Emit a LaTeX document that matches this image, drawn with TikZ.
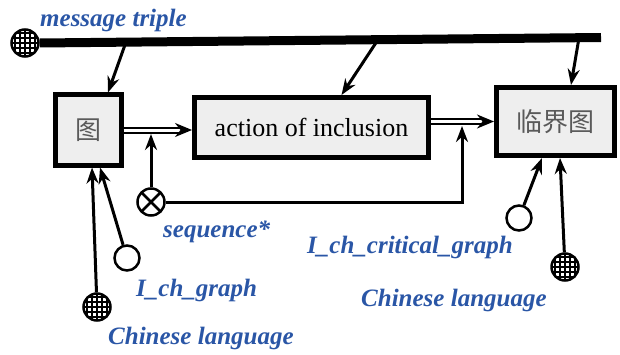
\documentclass[tikz,border=0pt]{standalone}
\usepackage{fontspec}
\setmainfont{Liberation Serif}
\newfontfamily\boxfont{Liberation Serif}
\newfontfamily\labelfont{Liberation Serif}[BoldItalicFont={* Bold Italic}]
\newfontfamily\cjk{Noto Sans CJK SC}
\usepackage{tikz}
\usetikzlibrary{arrows.meta, positioning, calc}
\definecolor{boxgray}{HTML}{EEEEEE}
\definecolor{labelblue}{HTML}{2A56A6}
\definecolor{hanzi}{HTML}{5A5A5A}

\begin{document}
\begin{tikzpicture}[
  x=1pt, y=1pt,
  box/.style={draw, line width=5pt, fill=boxgray, inner sep=0pt, align=center,
    font=\boxfont\fontsize{26}{30}\selectfont,
    path picture={\fill (path picture bounding box.north west) rectangle ++(8,-8);
      \fill[boxgray] ([shift={(8,-8)}]path picture bounding box.north west) circle (5.5);}},
  opensym/.style={circle, draw, line width=2.5pt, fill=white, minimum size=25pt, inner sep=0pt},
  gridsym/.style={circle, draw, line width=2.5pt, fill=white, minimum size=27pt, inner sep=0pt,
    path picture={\foreach \d in {-10,-5,0,5,10} {
      \draw[line width=1.2pt] ([xshift=\d]path picture bounding box.north) -- ([xshift=\d]path picture bounding box.south);
      \draw[line width=1.2pt] ([yshift=\d]path picture bounding box.west) -- ([yshift=\d]path picture bounding box.east);}}},
  crosssym/.style={circle, draw, line width=2.5pt, fill=white, minimum size=27pt, inner sep=0pt,
    path picture={
      \draw[line width=2.5pt] (path picture bounding box.north west) -- (path picture bounding box.south east);
      \draw[line width=2.5pt] (path picture bounding box.south west) -- (path picture bounding box.north east);}},
  lbl/.style={text=labelblue, inner sep=0pt, font=\labelfont\fontsize{25}{28}\selectfont\bfseries\itshape},
  arr/.style={-{Stealth[length=16pt, width=12pt]}, line width=3pt},
  dbl/.style={-{Stealth[length=17pt, width=14pt]}, double, double distance=3pt, line width=2pt},
  bar/.style={line width=9pt}
]
  \useasboundingbox (0,0) rectangle (620,354);

  % boxes
  \node[box, minimum width=66, minimum height=70, text=hanzi] (tu) at (88,224) {\cjk 图};
  \node[box, minimum width=234, minimum height=60] (act) at (311.5,226.5) {action of inclusion};
  \node[box, minimum width=118, minimum height=68, text=hanzi] (lj) at (555.5,232.5) {\cjk 临界图};

  % symbols
  \node[gridsym] (msg) at (25,311) {};
  \node[crosssym] (seq) at (151,152) {};
  \node[opensym] (og1) at (127,96) {};
  \node[gridsym] (zh1) at (97,47) {};
  \node[opensym] (og2) at (519,136) {};
  \node[gridsym] (zh2) at (565,87) {};

  \coordinate (barEnd) at (601,316.5);
  \coordinate (b1) at (126,312);
  \coordinate (b2) at (378,314.3);
  \coordinate (b3) at (579,316.2);
  \coordinate (j1) at (151,220);
  \coordinate (j2) at (462,228);

  % message triple bar
  \draw[bar] (msg.east) -- (barEnd);
  \draw[arr] (b1) -- ($(tu.north)+(20,0)$);
  \draw[arr] (b2) -- ($(act.north)+(30,0)$);
  \draw[arr] (b3) -- ($(lj.north)+(15.5,0)$);

  % main flow
  \draw[dbl] (tu.east) -- (act.west |- tu.east);
  \draw[dbl] (act.east |- lj.west) -- (lj.west);
  \draw[arr] (seq.north) -- (j1);
  \draw[arr] (seq.east) -| (j2);

  % inputs from below
  \draw[arr] (og1) -- ($(tu.south)+(12,0)$);
  \draw[arr] (zh1) -- ($(tu.south)+(4,0)$);
  \draw[arr] (og2) -- ($(lj.south)+(-13.5,0)$);
  \draw[arr] (zh2) -- ($(lj.south)+(4.5,0)$);

  % labels
  \node[lbl, anchor=west] (msgLbl) at (40,334) {message triple};
  \node[lbl, anchor=west] (seqLbl) at (163,122) {sequence*};
  \node[lbl, anchor=west] (graphLbl) at (136,64) {I\_ch\_graph};
  \node[lbl, anchor=west] (zhLblA) at (108,16) {Chinese language};
  \node[lbl, anchor=east] (critLbl) at (513,107) {I\_ch\_critical\_graph};
  \node[lbl, anchor=west] (zhLblB) at (361,54) {Chinese language};
\end{tikzpicture}
\end{document}
